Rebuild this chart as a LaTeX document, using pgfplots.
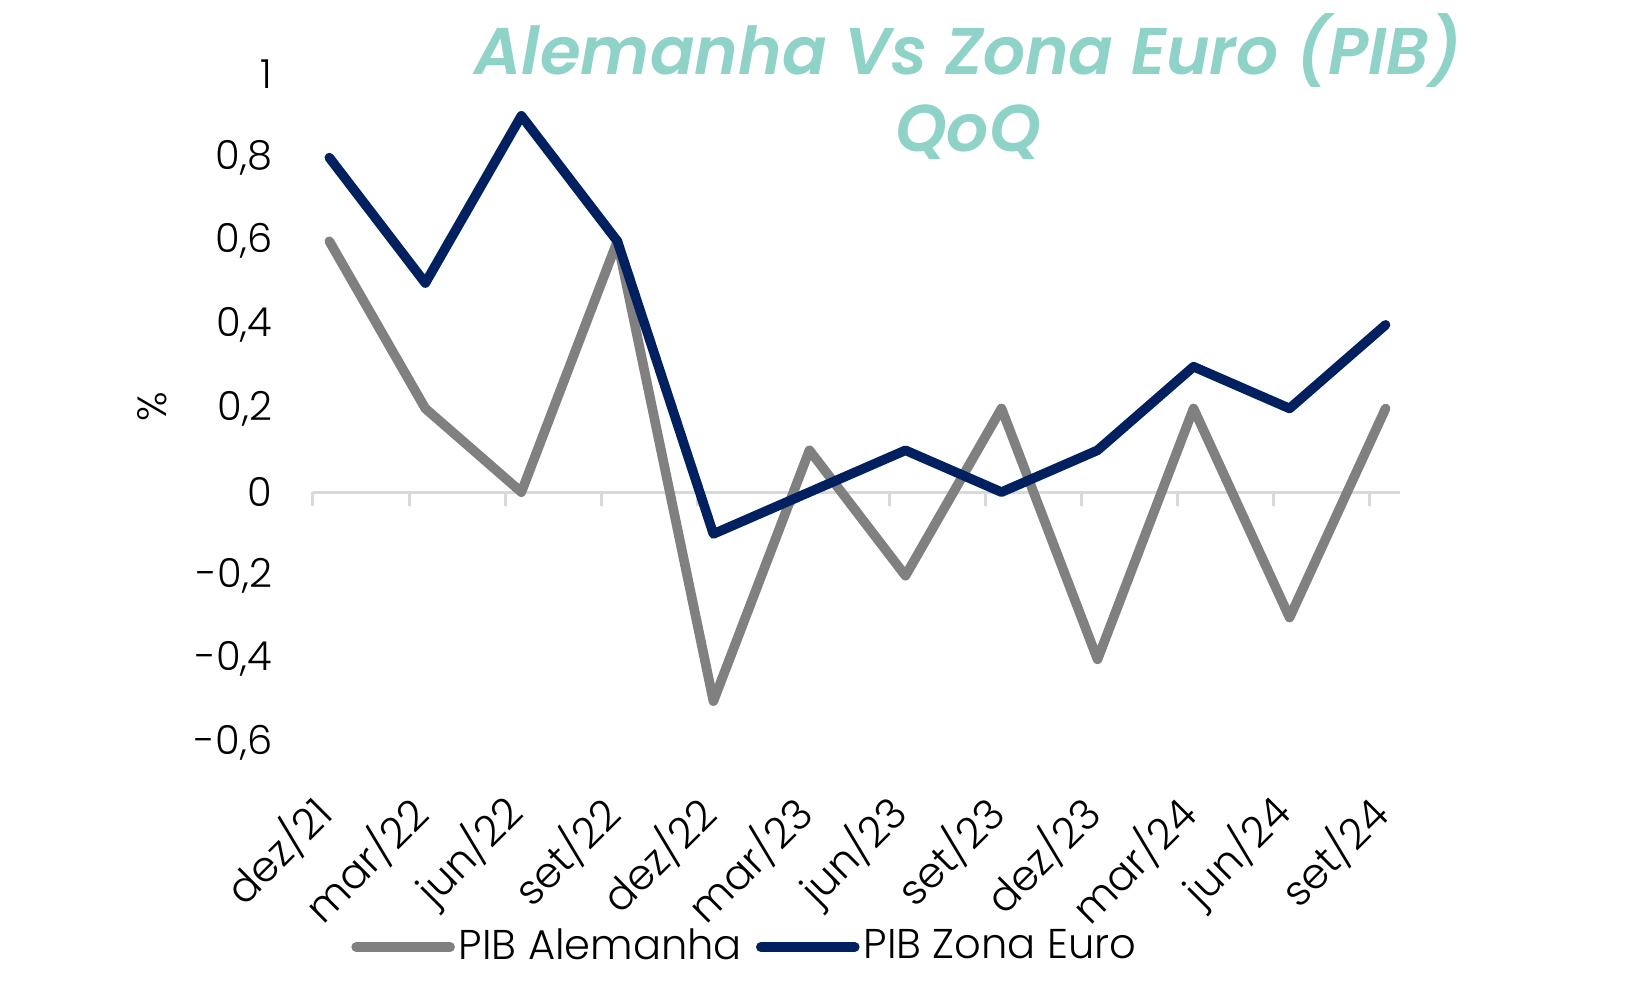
\documentclass[border=0pt]{standalone}
\usepackage{pgfplots}
\pgfplotsset{compat=1.18}
\usepackage{pgfplotstable}
\usepackage{fontspec}
\setmainfont{Poppins}[UprightFont=* Light, BoldItalicFont=* SemiBold Italic]

\definecolor{pibgray}{RGB}{128,128,128}
\definecolor{pibnavy}{RGB}{0,32,96}
\definecolor{titleteal}{RGB}{142,210,200}
\definecolor{axisgray}{RGB}{217,217,217}

% quarterly GDP change, %
\pgfplotstableread{
idx de   ez
0   0.6  0.8
1   0.2  0.5
2   0.0  0.9
3   0.6  0.6
4  -0.5 -0.1
5   0.1  0.0
6  -0.2  0.1
7   0.2  0.0
8  -0.4  0.1
9   0.2  0.3
10 -0.3  0.2
11  0.2  0.4
}\gdp

\begin{document}
\begin{tikzpicture}
\path[use as bounding box] (-78.25pt,-62pt) rectangle (334.25pt,185.75pt);
\begin{axis}[
  at={(0,0)}, anchor=south west,
  scale only axis, width=271.75pt, height=167.25pt,
  xmin=-0.17, xmax=11.15, ymin=-0.6, ymax=1,
  clip=false,
  axis line style={draw=none},
  major tick length=0pt,
  xtick={0,...,11},
  xticklabels={dez/21,mar/22,jun/22,set/22,dez/22,mar/23,jun/23,set/23,dez/23,mar/24,jun/24,set/24},
  ytick={-0.6,-0.4,-0.2,0,0.2,0.4,0.6,0.8,1},
  yticklabels={{-0,6},{-0,4},{-0,2},0,{0,2},{0,4},{0,6},{0,8},1},
  yticklabel style={font=\fontsize{10}{12}\selectfont, inner sep=0pt, xshift=-10pt},
  xticklabel style={font=\fontsize{10.5}{12}\selectfont, inner sep=0pt,
    xshift=-1.25pt, yshift=-15.5pt, rotate=45, anchor=east},
  legend columns=-1,
  legend style={at={(0.4,-0.305)}, anchor=center, draw=none, fill=none,
    font=\fontsize{10.4}{12}\selectfont, inner sep=0pt,
    /tikz/every even column/.append style={column sep=1.5pt},
    /tikz/every odd column/.append style={column sep=-1pt}},
  legend image code/.code={\draw[#1, line cap=round] (0pt,0pt) -- (23.5pt,0pt);},
  every axis plot/.append style={line width=2.4pt, line join=round, line cap=round},
]
\draw[axisgray, line width=0.75pt] (axis cs:-0.17,0) -- (axis cs:11.15,0);
\pgfplotsinvokeforeach{-0.17,0.83,1.83,2.83,3.83,4.83,5.83,6.83,7.83,8.83,9.83,10.83}{
  \draw[axisgray, line width=0.75pt] (axis cs:#1,0) -- ++(0pt,-3.5pt);
}
\addplot[pibgray] table[x=idx, y=de] {\gdp};
\addlegendentry{PIB Alemanha}
\addplot[pibnavy] table[x=idx, y=ez] {\gdp};
\addlegendentry{PIB Zona Euro}
\end{axis}
\node[rotate=90, font=\fontsize{10.2}{12}\selectfont] at (-40.25pt,84pt) {\%};
\node[align=center, text=titleteal, font=\fontsize{16.5}{19.25}\selectfont\bfseries\itshape]
  at (163.75pt,164pt) {Alemanha Vs Zona Euro (PIB)\\QoQ};
\end{tikzpicture}
\end{document}
